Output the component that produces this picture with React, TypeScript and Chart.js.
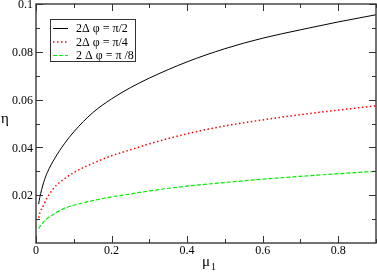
import React, { useEffect, useRef } from "react";
import { Chart, registerables } from "chart.js";

Chart.register(...registerables);

// data
const MU = [0.007, 0.01, 0.02, 0.03, 0.05, 0.075, 0.1, 0.15, 0.2, 0.25, 0.3, 0.4, 0.5, 0.6, 0.7, 0.8, 0.9];
const ETA_PI2 = [0.0163, 0.019, 0.0252, 0.0295, 0.0355, 0.0415, 0.0465, 0.0545, 0.0603, 0.065, 0.069, 0.0758, 0.0813, 0.0857, 0.0892, 0.0925, 0.0955];
const ETA_PI4 = [0.0105, 0.0125, 0.0158, 0.019, 0.0235, 0.0268, 0.0295, 0.0333, 0.0365, 0.039, 0.0415, 0.0457, 0.049, 0.0515, 0.0537, 0.0556, 0.0574];
const ETA_PI8 = [0.006, 0.0068, 0.0088, 0.0103, 0.0124, 0.0145, 0.0158, 0.0177, 0.0193, 0.0205, 0.0218, 0.0238, 0.0253, 0.0267, 0.0279, 0.029, 0.03];

const SERIES_LABELS = ["2Δ φ = π/2", "2Δ φ = π/4", "2 Δ φ = π /8"];

const X_MAJOR = [0, 0.2, 0.4, 0.6, 0.8];
const X_MAJOR_LABELS = ["0", "0.2", "0.4", "0.6", "0.8"];
const X_MINOR = [0.1, 0.3, 0.5, 0.7, 0.9];
const Y_MAJOR = [0.02, 0.04, 0.06, 0.08, 0.1];
const Y_MAJOR_LABELS = ["0.02", "0.04", "0.06", "0.08", "0.1"];
const Y_MINOR = [0.01, 0.03, 0.05, 0.07, 0.09];

const X_TITLE = "μ";
const X_TITLE_SUB = "1";
const Y_TITLE = "η";

const FONT = '"Liberation Serif", "DejaVu Serif", serif';

const framePlugin = {
  id: "frameTicks",
  afterDatasetsDraw(chart: any) {
    const ctx = chart.ctx;
    const { left, right, top, bottom } = chart.chartArea;
    const xs = chart.scales.x;
    const ys = chart.scales.y;
    ctx.save();
    // frame
    ctx.strokeStyle = "#444";
    ctx.lineWidth = 1.5;
    ctx.strokeRect(left, top, right - left, bottom - top);
    ctx.lineWidth = 1;
    ctx.strokeStyle = "#333";
    const MAJ = 7;
    const MIN = 4;
    const tickX = (v: number, len: number) => {
      const p = Math.round(xs.getPixelForValue(v)) + 0.5;
      ctx.beginPath();
      ctx.moveTo(p, bottom);
      ctx.lineTo(p, bottom - len);
      ctx.moveTo(p, top);
      ctx.lineTo(p, top + len);
      ctx.stroke();
    };
    const tickY = (v: number, len: number) => {
      const p = Math.round(ys.getPixelForValue(v)) + 0.5;
      ctx.beginPath();
      ctx.moveTo(left, p);
      ctx.lineTo(left + len, p);
      ctx.moveTo(right, p);
      ctx.lineTo(right - len, p);
      ctx.stroke();
    };
    X_MAJOR.forEach((v) => tickX(v, MAJ));
    X_MINOR.forEach((v) => tickX(v, MIN));
    Y_MAJOR.forEach((v) => tickY(v, MAJ));
    Y_MINOR.forEach((v) => tickY(v, MIN));

    // tick labels
    ctx.fillStyle = "#000";
    ctx.font = `12px ${FONT}`;
    ctx.textAlign = "center";
    ctx.textBaseline = "middle";
    X_MAJOR.forEach((v, i) => {
      ctx.fillText(X_MAJOR_LABELS[i], xs.getPixelForValue(v), bottom + 8);
    });
    ctx.textAlign = "right";
    Y_MAJOR.forEach((v, i) => {
      ctx.fillText(Y_MAJOR_LABELS[i], left - 3, ys.getPixelForValue(v) + 1);
    });

    // axis titles
    const cx = (left + right) / 2;
    ctx.font = `15px ${FONT}`;
    ctx.textAlign = "right";
    ctx.textBaseline = "alphabetic";
    ctx.fillText(X_TITLE, cx + 4, bottom + 23);
    ctx.font = `10px ${FONT}`;
    ctx.textAlign = "left";
    ctx.fillText(X_TITLE_SUB, cx + 5, bottom + 27);
    ctx.font = `15px ${FONT}`;
    ctx.textAlign = "left";
    ctx.textBaseline = "middle";
    ctx.fillText(Y_TITLE, 1, (top + bottom) / 2 - 4);

    // legend
    const lx = 50.5, ly = 19.5, lw = 85, lh = 42;
    ctx.fillStyle = "#fff";
    ctx.fillRect(lx, ly, lw, lh);
    ctx.strokeStyle = "#333";
    ctx.lineWidth = 1;
    ctx.strokeRect(lx, ly, lw, lh);
    ctx.font = `12px ${FONT}`;
    ctx.textAlign = "left";
    ctx.textBaseline = "middle";
    chart.data.datasets.forEach((ds: any, i: number) => {
      const y = 28.5 + i * 13.5;
      ctx.save();
      ctx.strokeStyle = ds.borderColor;
      ctx.lineWidth = ds.borderWidth;
      ctx.setLineDash(ds.borderDash || []);
      ctx.beginPath();
      ctx.moveTo(53, y);
      ctx.lineTo(68, y);
      ctx.stroke();
      ctx.restore();
      ctx.fillStyle = "#000";
      ctx.fillText(ds.label, 76, y + 0.5);
    });
    ctx.restore();
  },
};

export default function App() {
  const ref = useRef<HTMLCanvasElement>(null);
  useEffect(() => {
    document.body.style.margin = "0";
    let chart: any = null;
    let cancelled = false;
    const mk = (arr: number[]) => MU.map((x, i) => ({ x, y: arr[i] }));
    const build = () => {
      if (cancelled || !ref.current) return;
      chart = new Chart(ref.current, {
        type: "line",
        data: {
          datasets: [
            {
              label: SERIES_LABELS[0],
              data: mk(ETA_PI2),
              borderColor: "#000",
              borderWidth: 1,
              pointRadius: 0,
              cubicInterpolationMode: "monotone",
            },
            {
              label: SERIES_LABELS[1],
              data: mk(ETA_PI4),
              borderColor: "#ff0000",
              borderWidth: 1.5,
              borderDash: [1.5, 2.5],
              pointRadius: 0,
              cubicInterpolationMode: "monotone",
            },
            {
              label: SERIES_LABELS[2],
              data: mk(ETA_PI8),
              borderColor: "#00ee00",
              borderWidth: 1.2,
              borderDash: [4, 2],
              pointRadius: 0,
              cubicInterpolationMode: "monotone",
            },
          ],
        },
        options: {
          animation: false,
          responsive: false,
          devicePixelRatio: 1,
          layout: { padding: { left: 36, top: 4, right: 1, bottom: 29 } },
          plugins: { legend: { display: false }, tooltip: { enabled: false } },
          scales: {
            x: { type: "linear", min: 0, max: 0.9, display: false },
            y: { type: "linear", min: 0, max: 0.1, display: false },
          },
        },
        plugins: [framePlugin],
      } as any);
    };
    const fontsReady = (document as any).fonts
      ? Promise.all([
          (document as any).fonts.load('12px "Liberation Serif"', "0.2Δφπμη"),
          (document as any).fonts.load('15px "Liberation Serif"', "μη"),
        ]).catch(() => null)
      : Promise.resolve(null);
    fontsReady.then(build);
    return () => {
      cancelled = true;
      if (chart) chart.destroy();
    };
  }, []);
  return <canvas ref={ref} width={377} height={272} style={{ display: "block" }} />;
}
